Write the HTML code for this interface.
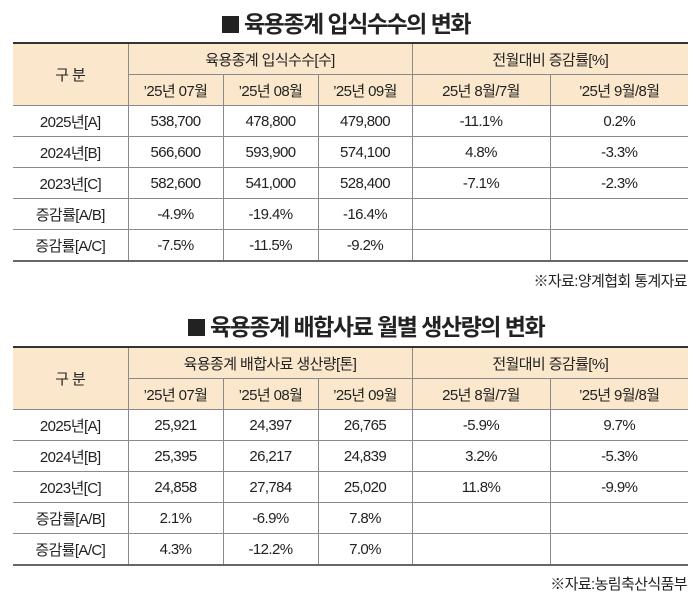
<!DOCTYPE html>
<html><head><meta charset="utf-8"><style>
body{margin:0;width:700px;height:608px;background:#fff;font-family:"Liberation Sans","Noto Sans CJK KR",sans-serif;color:#222;position:relative;overflow:hidden}
.t{position:absolute;font-weight:bold;font-size:23px;letter-spacing:-1.5px;white-space:nowrap}
.t i{display:inline-block;width:17px;height:17px;background:#222;margin-right:5px;vertical-align:-1px}
table{position:absolute;left:13px;width:675px;border-collapse:collapse;table-layout:fixed;font-size:15px;letter-spacing:-0.6px}
table{border-top:2px solid #333;border-bottom:2px solid #666}
td{border:1px solid #8a8a8a;text-align:center;height:30px;padding:0;white-space:nowrap}
tr td:first-child{border-left:none}
tr td:last-child{border-right:none}
.h td{background:#fbe8cc}
.s{position:absolute;right:13px;font-size:15px;letter-spacing:-0.6px}
</style></head><body>
<div class="t" style="left:222px;top:5px"><i></i>육용종계 입식수수의 변화</div>
<table style="top:42px">
<colgroup><col style="width:115px"><col style="width:95px"><col style="width:95px"><col style="width:94px"><col style="width:138px"><col style="width:138px"></colgroup>
<tr class="h"><td rowspan="2">구 분</td><td colspan="3">육용종계 입식수수[수]</td><td colspan="2">전월대비 증감률[%]</td></tr>
<tr class="h"><td>’25년 07월</td><td>’25년 08월</td><td>’25년 09월</td><td>25년 8월/7월</td><td>’25년 9월/8월</td></tr>
<tr><td>2025년[A]</td><td>538,700</td><td>478,800</td><td>479,800</td><td>-11.1%</td><td>0.2%</td></tr>
<tr><td>2024년[B]</td><td>566,600</td><td>593,900</td><td>574,100</td><td>4.8%</td><td>-3.3%</td></tr>
<tr><td>2023년[C]</td><td>582,600</td><td>541,000</td><td>528,400</td><td>-7.1%</td><td>-2.3%</td></tr>
<tr><td>증감률[A/B]</td><td>-4.9%</td><td>-19.4%</td><td>-16.4%</td><td></td><td></td></tr>
<tr><td>증감률[A/C]</td><td>-7.5%</td><td>-11.5%</td><td>-9.2%</td><td></td><td></td></tr>
</table>
<div class="s" style="top:270px">※자료:양계협회 통계자료</div>
<div class="t" style="left:188px;top:308px"><i></i>육용종계 배합사료 월별 생산량의 변화</div>
<table style="top:346px">
<colgroup><col style="width:115px"><col style="width:95px"><col style="width:95px"><col style="width:94px"><col style="width:138px"><col style="width:138px"></colgroup>
<tr class="h"><td rowspan="2">구 분</td><td colspan="3">육용종계 배합사료 생산량[톤]</td><td colspan="2">전월대비 증감률[%]</td></tr>
<tr class="h"><td>’25년 07월</td><td>’25년 08월</td><td>’25년 09월</td><td>25년 8월/7월</td><td>’25년 9월/8월</td></tr>
<tr><td>2025년[A]</td><td>25,921</td><td>24,397</td><td>26,765</td><td>-5.9%</td><td>9.7%</td></tr>
<tr><td>2024년[B]</td><td>25,395</td><td>26,217</td><td>24,839</td><td>3.2%</td><td>-5.3%</td></tr>
<tr><td>2023년[C]</td><td>24,858</td><td>27,784</td><td>25,020</td><td>11.8%</td><td>-9.9%</td></tr>
<tr><td>증감률[A/B]</td><td>2.1%</td><td>-6.9%</td><td>7.8%</td><td></td><td></td></tr>
<tr><td>증감률[A/C]</td><td>4.3%</td><td>-12.2%</td><td>7.0%</td><td></td><td></td></tr>
</table>
<div class="s" style="top:573px">※자료:농림축산식품부</div>
</body></html>
